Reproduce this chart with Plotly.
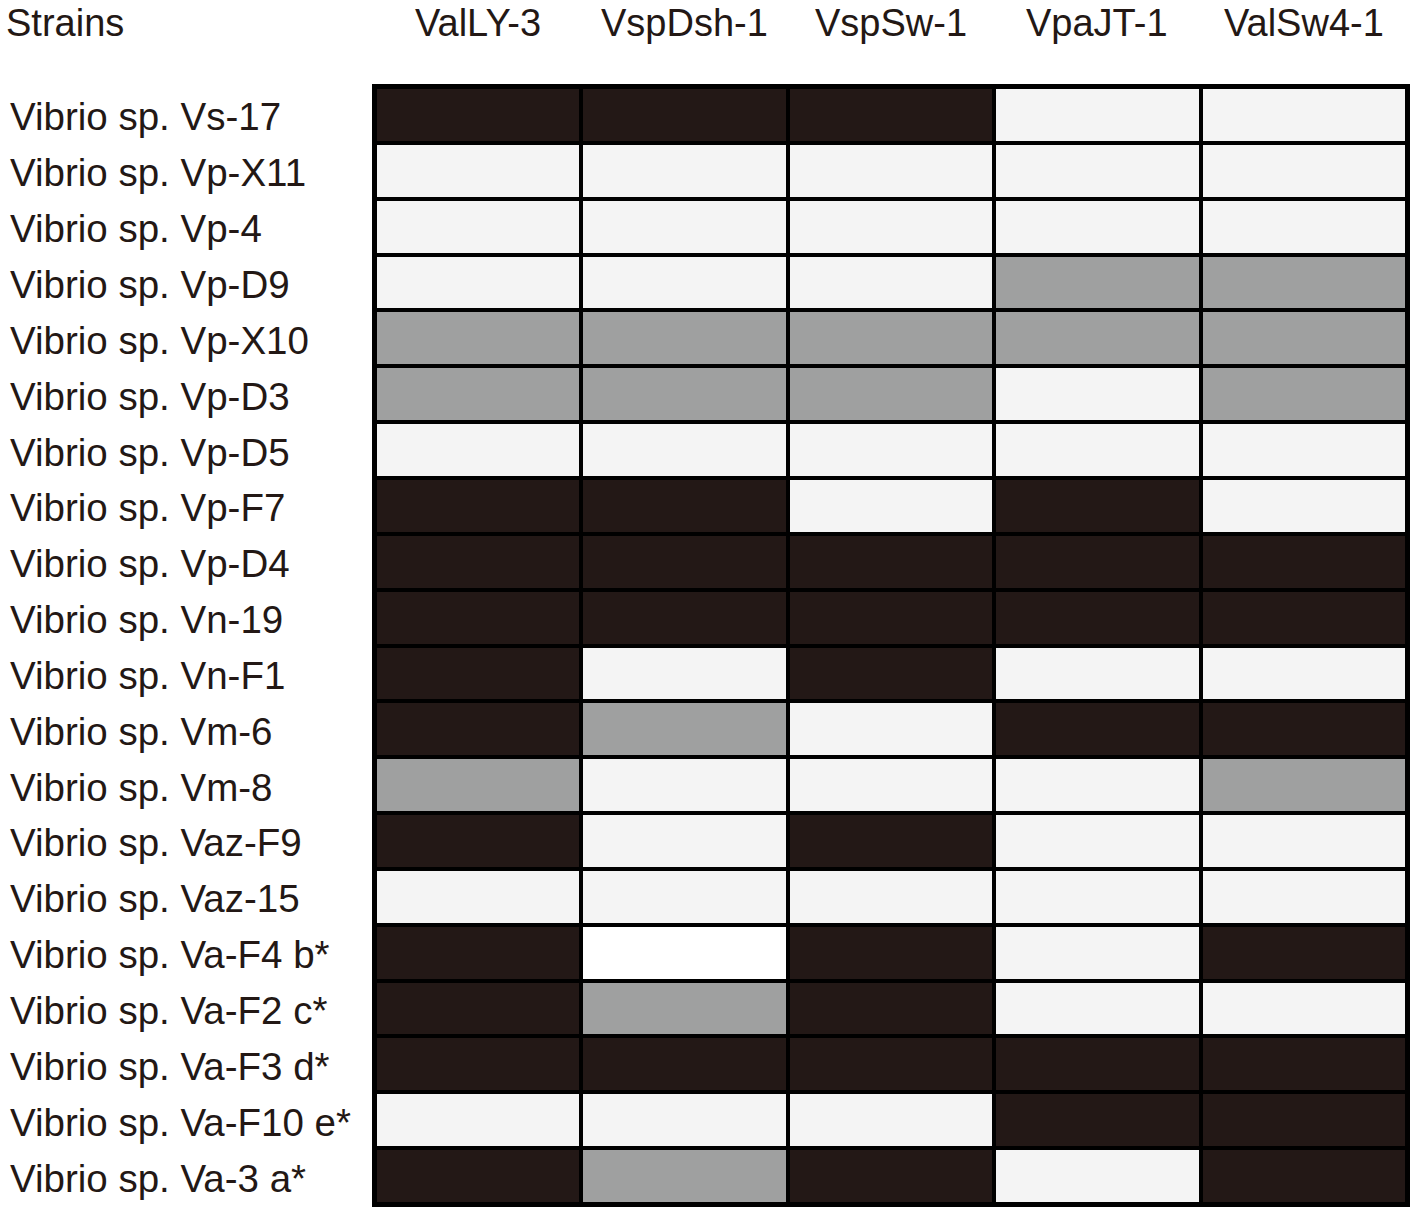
import plotly.graph_objects as go

# strains (rows, top to bottom) and phages (columns)
strains = [
    "Vibrio sp. Vs-17", "Vibrio sp. Vp-X11", "Vibrio sp. Vp-4", "Vibrio sp. Vp-D9",
    "Vibrio sp. Vp-X10", "Vibrio sp. Vp-D3", "Vibrio sp. Vp-D5", "Vibrio sp. Vp-F7",
    "Vibrio sp. Vp-D4", "Vibrio sp. Vn-19", "Vibrio sp. Vn-F1", "Vibrio sp. Vm-6",
    "Vibrio sp. Vm-8", "Vibrio sp. Vaz-F9", "Vibrio sp. Vaz-15", "Vibrio sp. Va-F4 b*",
    "Vibrio sp. Va-F2 c*", "Vibrio sp. Va-F3 d*", "Vibrio sp. Va-F10 e*", "Vibrio sp. Va-3 a*",
]
phages = ["ValLY-3", "VspDsh-1", "VspSw-1", "VpaJT-1", "ValSw4-1"]

# 0 = no lysis (light), 1 = weak (grey), 2 = lysis (black), 3 = blank (white)
lysis = [
    [2, 2, 2, 0, 0],
    [0, 0, 0, 0, 0],
    [0, 0, 0, 0, 0],
    [0, 0, 0, 1, 1],
    [1, 1, 1, 1, 1],
    [1, 1, 1, 0, 1],
    [0, 0, 0, 0, 0],
    [2, 2, 0, 2, 0],
    [2, 2, 2, 2, 2],
    [2, 2, 2, 2, 2],
    [2, 0, 2, 0, 0],
    [2, 1, 0, 2, 2],
    [1, 0, 0, 0, 1],
    [2, 0, 2, 0, 0],
    [0, 0, 0, 0, 0],
    [2, 3, 2, 0, 2],
    [2, 1, 2, 0, 0],
    [2, 2, 2, 2, 2],
    [0, 0, 0, 2, 2],
    [2, 1, 2, 0, 2],
]

LIGHT = "#f4f4f4"
GREY = "#9fa0a0"
DARK = "#231816"
WHITE = "#ffffff"
TEXT = "#231815"
FONT = "Liberation Sans, Arial, sans-serif"

W, H = 1417, 1215
ml, mr, mt, mb = 375, 7, 87, 11
pw = W - ml - mr
ph = H - mt - mb

fig = go.Figure(
    go.Heatmap(
        z=lysis,
        x=phages,
        y=strains,
        zmin=-0.5,
        zmax=3.5,
        colorscale=[
            [0, LIGHT], [0.25, LIGHT],
            [0.25, GREY], [0.5, GREY],
            [0.5, DARK], [0.75, DARK],
            [0.75, WHITE], [1, WHITE],
        ],
        showscale=False,
        xgap=4,
        ygap=4,
        hoverinfo="skip",
    )
)

annotations = []
for s in strains:
    annotations.append(dict(
        text=s, x=(7 - ml) / pw, xref="paper", y=s, yref="y",
        xanchor="left", yanchor="middle", showarrow=False, yshift=-2,
        font=dict(size=38.5, color=TEXT, family=FONT),
    ))
for p in phages:
    annotations.append(dict(
        text=p, x=p, xref="x", y=1 + 64 / ph, yref="paper",
        xanchor="center", yanchor="middle", showarrow=False,
        font=dict(size=38, color=TEXT, family=FONT),
    ))
annotations.append(dict(
    text="Strains", x=(3 - ml) / pw, xref="paper", y=1 + 64 / ph, yref="paper",
    xanchor="left", yanchor="middle", showarrow=False,
    font=dict(size=38, color=TEXT, family=FONT),
))

fig.update_layout(
    width=W,
    height=H,
    margin=dict(l=ml, r=mr, t=mt, b=mb, pad=0),
    paper_bgcolor="white",
    plot_bgcolor="black",
    annotations=annotations,
    showlegend=False,
)
fig.update_xaxes(showticklabels=False, ticks="", showgrid=False, zeroline=False,
                 showline=True, mirror=True, linewidth=3, linecolor="black")
fig.update_yaxes(showticklabels=False, ticks="", showgrid=False, zeroline=False,
                 autorange="reversed",
                 showline=True, mirror=True, linewidth=3, linecolor="black")

# drop the browser's default body margin so the figure sits at the page corner
fig.write_html("out.html", config={"displayModeBar": False},
               post_script="document.body.style.margin='0';")
